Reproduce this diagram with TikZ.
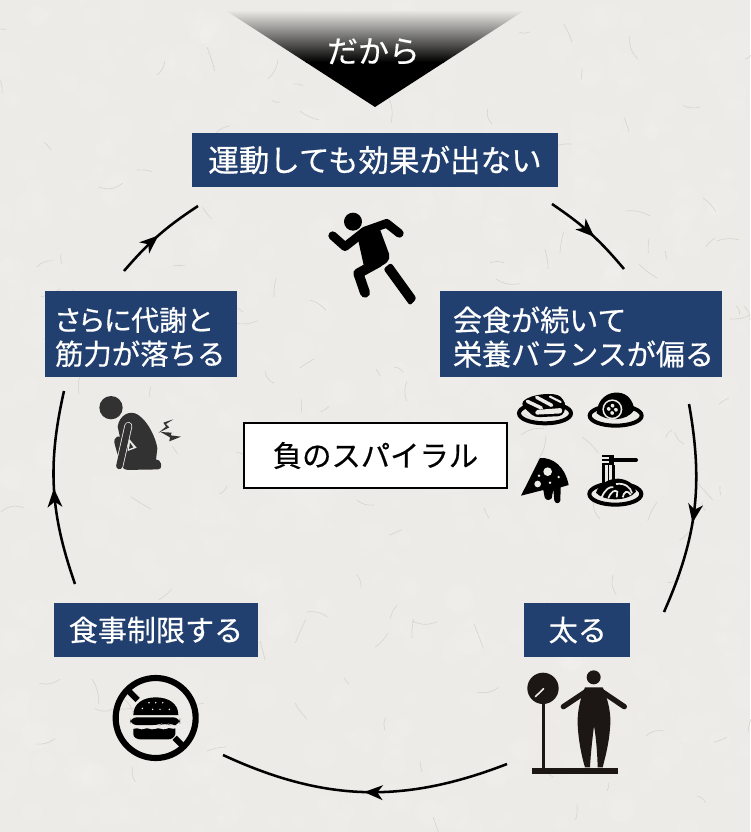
\documentclass[tikz,border=0pt]{standalone}
\usepackage{fontspec}
\setmainfont{Noto Sans CJK JP}[RawFeature={embolden=0.5}]
\newfontfamily\paltfont{Noto Sans CJK JP}[RawFeature={+palt;embolden=0.5}]
\usetikzlibrary{arrows.meta,decorations.markings,shadings}
\definecolor{paper}{HTML}{ECEBE7}
\definecolor{fiber}{HTML}{D6D4CE}
\definecolor{boxblue}{HTML}{22406F}
\definecolor{inkdark}{HTML}{333232}
\definecolor{inkbrown}{HTML}{1C1614}
\newcommand{\lowerone}[1]{\raisebox{-0.75pt}{#1}}
\tikzset{
  x=0.75pt,y=-0.75pt,
  bluebox/.style={fill=boxblue,text=white,inner sep=0pt,font=\fontsize{21.8}{25.5}\selectfont},
  boxtext/.style={text=white,inner sep=0pt,align=left,anchor=west},
  spiralarrow/.style={line width=1.9pt,black,postaction={decorate},
    decoration={markings,mark=at position #1 with {\arrow{Stealth[length=14pt,width=11pt,inset=4pt]}}}},
  zoomed/.style={shift={(#1)},x=0.25pt,y=-0.25pt},
  limb/.style={line cap=round,line join=round,draw=#1},
}
\begin{document}
\begin{tikzpicture}
\useasboundingbox (0,0) rectangle (750,832);
\fill[paper] (0,0) rectangle (750,832);
% paper mottling and fibres
\pgfmathsetseed{1234}
\foreach \i in {1,...,600}{
  \pgfmathsetmacro{\fx}{random(0,750)}
  \pgfmathsetmacro{\fy}{random(0,832)}
  \pgfmathsetmacro{\fr}{random(3,16)}
  \fill[white,opacity=0.08] (\fx,\fy) circle (\fr);
}
\pgfmathsetseed{4711}
\foreach \i in {1,...,130}{
  \pgfmathsetmacro{\fx}{random(0,750)}
  \pgfmathsetmacro{\fy}{random(0,832)}
  \pgfmathsetmacro{\fa}{random(0,360)}
  \pgfmathsetmacro{\fl}{random(8,26)}
  \pgfmathsetmacro{\fb}{random(-30,30)}
  \draw[fiber,line width=0.45pt] (\fx,\fy) to[bend left=\fb] ++(\fa:\fl);
}
% top banner triangle
\begin{scope}
  \clip (225,10) -- (525,10) -- (375,107) -- cycle;
  \shade[top color=paper,bottom color=black] (220,10) rectangle (530,62);
  \fill[black] (220,61.5) rectangle (530,110);
\end{scope}
\node[text=white,font=\fontsize{23.2}{27}\selectfont] (banner) at (373.5,51.5) {だから};

% label boxes
\node[bluebox,minimum width=274.5pt,minimum height=40.5pt,font=\fontsize{22.9}{26}\selectfont] (run) at (375,160) {\lowerone{運動しても効果が出ない}};
\node[bluebox,minimum width=211.5pt,minimum height=64.5pt] (meal) at (581,334) {};
\node[boxtext,font=\fontsize{21.8}{25.5}\selectfont] (mealtext) at ([shift={(13,3)}]meal.west) {会食が続いて\\栄養バランスが偏る};
\node[bluebox,minimum width=79.5pt,minimum height=40.5pt] (fat) at (577,630) {\lowerone{\hspace{1.2pt}太る}};
\node[bluebox,minimum width=153pt,minimum height=40.5pt] (diet) at (156,630) {\lowerone{食事制限する}};
\node[bluebox,minimum width=144pt,minimum height=64.5pt] (weak) at (141,334) {};
\node[boxtext,font=\fontsize{21.3}{25.5}\selectfont] (weaktext) at ([shift={(10,3)}]weak.west) {{\paltfont\fontsize{21}{25.5}\selectfont さらに代謝と}\\筋力が落ちる};
\node[draw=black,line width=1.5pt,fill=white,minimum width=197pt,minimum height=49pt,inner sep=0pt,font=\fontsize{22}{26}\selectfont] (center) at (375.5,455.5) {負のスパイラル};

% spiral connectors
\coordinate (a1) at (552,204); \coordinate (a2) at (624,269);
\coordinate (b1) at (689,404); \coordinate (b2) at (664,612);
\coordinate (c1) at (507,764); \coordinate (c2) at (223,755);
\coordinate (d1) at (75,584);  \coordinate (d2) at (64,391);
\coordinate (e1) at (124,271); \coordinate (e2) at (198,206);
\draw[spiralarrow=0.55] (a1) to[bend left=8] (a2);
\draw[spiralarrow=0.56] (b1) to[bend left=17] (b2);
\draw[spiralarrow=0.5] (c1) to[bend left=23] (c2);
\draw[spiralarrow=0.5] (d1) to[bend left=16] (d2);
\draw[spiralarrow=0.5] (e1) to[bend left=8] (e2);

% runner
\begin{scope}[zoomed={310,195}]
  \fill[black] (129,80) circle (27);
  \draw[limb=black,line width=6.5pt] (68,122) -- (105,155) -- (165,108) -- (230,85) -- (268,115);
  \fill[black,rounded corners=4pt] (140,115) -- (205,90) -- (243,192) -- (216,214) -- (165,228) -- cycle;
  \draw[limb=black,line width=7.5pt] (205,202) -- (145,235) -- (165,293);
  \fill[black,rounded corners=2pt] (220,222) -- (243,203) -- (320,310) -- (300,332) -- cycle;
\end{scope}

% sushi
\begin{scope}[zoomed={500,380}]
  \draw[black,line width=3pt] (135,100) ellipse (78 and 30);
  \fill[black,rounded corners=3pt] (62,72) .. controls (90,42) and (165,35) .. (190,58) -- (198,78) -- (188,108) -- (105,112) -- (88,98) -- cycle;
  \fill[paper,rounded corners=1.5pt] (106,90) -- (186,84) -- (186,100) -- (106,104) -- cycle;
  \draw[paper,line width=2.6pt,line cap=round] (82,64) -- (124,84);
  \draw[paper,line width=2.6pt,line cap=round] (110,52) -- (155,76);
  \draw[paper,line width=1.6pt,line cap=round] (150,50) -- (182,66);
\end{scope}

% omelette plate
\begin{scope}[zoomed={500,380}]
  \draw[black,line width=3pt] (347,107) ellipse (78 and 30);
  \fill[black] (290,100) .. controls (292,55) and (325,35) .. (355,38) .. controls (385,40) and (400,65) .. (403,90) .. controls (380,125) and (320,125) .. (290,100) -- cycle;
  \fill[paper] (337,88) circle (30);
  \fill[black] (337,88) circle (25);
  \begin{scope}[rotate around={40:(337,88)}]
    \fill[paper,rounded corners=1.5pt] (324,74) rectangle (335,86);
    \fill[paper,rounded corners=1.5pt] (339,74) rectangle (350,86);
    \fill[paper,rounded corners=1.5pt] (324,90) rectangle (335,102);
    \fill[paper,rounded corners=1.5pt] (339,90) rectangle (350,102);
  \end{scope}
\end{scope}

% pizza
\begin{scope}[zoomed={500,380}]
  \fill[black,line join=round] (63,347) -- (120,234) .. controls (160,232) and (195,260) .. (206,315) -- (182,322) -- (181,362) .. controls (178,372) and (166,372) .. (163,362) -- (160,328) -- (155,355) .. controls (148,362) and (138,362) .. (134,352) -- (130,330) -- cycle;
  \fill[paper] (143,275) circle (13);
  \fill[paper] (113,312) circle (10);
  \fill[paper] (117,287) circle (4);
  \fill[paper] (176,291) circle (4);
  \fill[paper] (150,308) circle (4);
\end{scope}

% noodles
\begin{scope}[zoomed={500,380}]
  \draw[black,line width=3pt] (346,342) ellipse (78 and 32);
  \draw[black,line width=3pt,line cap=round] (335,240) -- (408,240);
  \fill[black] (305,224) rectangle (340,230);
  \fill[black] (305,236) rectangle (340,242);
  \fill[black] (326,224) rectangle (342,256);
  \fill[black] (305,250) rectangle (342,256);
  \draw[black,line width=2pt] (310,255) -- (310,315);
  \draw[black,line width=2pt] (340,255) -- (340,305);
  \draw[black,line width=1pt] (325,255) -- (325,305);
  \fill[black] (288,338) .. controls (295,315) and (325,295) .. (355,296) .. controls (385,298) and (405,315) .. (408,335) .. controls (385,365) and (310,365) .. (288,338) -- cycle;
  \draw[paper,line width=1.3pt] (305,352) .. controls (315,328) and (330,318) .. (340,322);
  \draw[paper,line width=1.3pt] (325,355) .. controls (332,335) and (345,328) .. (352,335) -- (350,352);
  \draw[paper,line width=1.3pt] (348,312) .. controls (375,308) and (392,322) .. (396,340);
  \draw[paper,line width=1.3pt] (368,352) .. controls (372,335) and (382,328) .. (392,345);
\end{scope}

% crouching figure
\begin{scope}[zoomed={80,380}]
  \fill[inkdark] (93,83) circle (35);
  \fill[inkdark] (113,140) .. controls (118,105) and (150,88) .. (175,105) .. controls (205,125) and (228,175) .. (232,205) -- (228,240) -- (190,240) -- (135,240) -- cycle;
  \fill[inkdark,rounded corners=3pt] (100,175) -- (125,165) -- (135,235) -- (160,240) -- (240,238) -- (246,268) -- (130,270) -- (110,215) -- cycle;
  \fill[paper] (146,175) -- (170,203) -- (143,213) -- cycle;
  \fill[inkdark] (150,188) -- (160,202) -- (147,207) -- cycle;
  \draw[limb=paper,line width=6pt] (118,258) -- (145,138);
  \draw[limb=inkdark,line width=4.8pt] (118,258) -- (145,138);
  % pain marks
  \fill[inkdark] (280,118) -- (250,128) -- (258,140) -- (236,158) -- (268,142) -- (258,132) -- cycle;
  \fill[inkdark] (242,156) -- (275,158) -- (272,166) -- (303,170) -- (268,184) -- (270,172) -- cycle;
\end{scope}

% no burger
\begin{scope}[zoomed={100,660}]
  \draw[black,line width=4.6pt] (167,174) circle (120);
  \draw[black,line width=4.5pt] (85,92) -- (113,120);
  \draw[black,line width=4.5pt] (224,233) -- (250,259);
  \fill[black] (100,165) .. controls (100,130) and (130,112) .. (167,112) .. controls (205,112) and (235,130) .. (235,165) -- cycle;
  \foreach \p in {(147,128),(167,128),(188,128),(127,145),(158,148),(180,148),(208,148)}
    \fill[paper] \p circle (2.5);
  \fill[black,rounded corners=5pt] (90,172) -- (240,172) -- (240,195) -- (210,195) -- (195,187) -- (180,195) -- (90,195) -- cycle;
  \fill[black] (100,207) .. controls (115,200) and (120,212) .. (132,207) .. controls (145,200) and (150,212) .. (165,207) .. controls (180,200) and (185,212) .. (198,207) .. controls (210,200) and (218,210) .. (226,205) -- (226,222) .. controls (224,232) and (215,238) .. (205,238) -- (122,238) .. controls (110,238) and (100,232) .. (100,222) -- cycle;
\end{scope}

% person on scale
\begin{scope}[zoomed={510,660}]
  \fill[inkbrown] (99,85) circle (47);
  \draw[paper,line width=1.2pt,line cap=round] (76,110) -- (101,86);
  \fill[inkbrown] (95,125) rectangle (104,325);
  \fill[inkbrown] (67,323) rectangle (323,342);
  \fill[inkbrown] (251,52) circle (21);
  \draw[limb=inkbrown,line width=4pt] (160,140) -- (232,92);
  \draw[limb=inkbrown,line width=4pt] (343,140) -- (272,92);
  \fill[inkbrown] (225,82) -- (278,82) .. controls (295,120) and (305,165) .. (300,205) .. controls (297,250) and (285,295) .. (278,322) -- (263,322) .. controls (262,280) and (258,230) .. (252,198) .. controls (248,230) and (242,280) .. (240,322) -- (225,322) .. controls (215,290) and (205,240) .. (203,195) .. controls (201,160) and (210,115) .. (225,82) -- cycle;
\end{scope}
\end{tikzpicture}
\end{document}
